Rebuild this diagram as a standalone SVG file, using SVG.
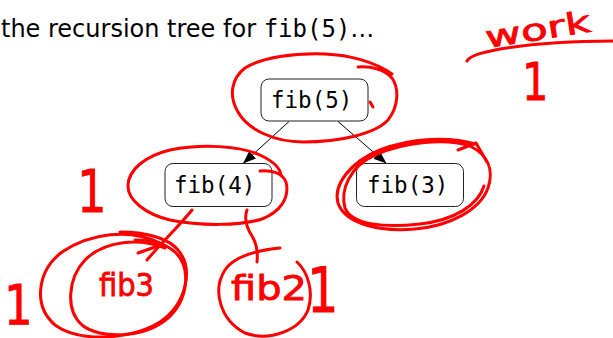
<svg xmlns="http://www.w3.org/2000/svg" width="613" height="338" viewBox="0 0 613 338">
  <style>
    .box { fill: #ffffff; stroke: #222222; stroke-width: 1; }
    .lbl { font-family: "DejaVu Sans Mono", "Liberation Mono", monospace; font-size: 22.5px; fill: #000000; }
    .edge { stroke: #000000; stroke-width: 1; fill: none; marker-end: url(#arrow); }
    .ink { fill: none; stroke: #ff0000; stroke-width: 3; stroke-linecap: round; stroke-linejoin: round; }
    .hand { font-family: "DejaVu Sans", sans-serif; fill: #ff0000; stroke: #ff0000; stroke-width: 0.8; }
  </style>
  <defs>
    <marker id="arrow" markerUnits="userSpaceOnUse" markerWidth="14" markerHeight="10" refX="13" refY="5" orient="auto">
      <path d="M0,0 L13,5 L0,10 Z" fill="#000000"/>
    </marker>
  </defs>
  <rect width="613" height="338" fill="#ffffff"/>

  <text x="1" y="37" font-family="DejaVu Sans, sans-serif" font-size="24" fill="#000000">the recursion tree for <tspan font-family="DejaVu Sans Mono, monospace">fib(5)</tspan>…</text>

  <g id="connectors">
    <line class="edge" x1="289" y1="121.5" x2="243" y2="163.5"/>
    <line class="edge" x1="338" y1="121.5" x2="386.5" y2="163.5"/>
  </g>

  <g id="node-fib5">
    <rect class="box" x="261" y="79" width="107" height="42" rx="8"/>
    <text class="lbl" x="271" y="108">fib(5)</text>
  </g>
  <g id="node-fib4">
    <rect class="box" x="165" y="163.5" width="107" height="43" rx="8"/>
    <text class="lbl" x="174" y="193">fib(4)</text>
  </g>
  <g id="node-fib3">
    <rect class="box" x="356.5" y="163.5" width="107" height="43" rx="8"/>
    <text class="lbl" x="367" y="193">fib(3)</text>
  </g>

  <g id="annotations">
    <!-- loop around fib(5) -->
    <path class="ink" d="M 358,67 C 372,66 385,70 392,78 C 399,88 399,106 388,120 C 375,134 340,142 303,142 C 275,142 248,130 238,112 C 228,95 232,78 245,68 C 262,57 295,53 325,54 C 350,55 375,62 392,74"/>
    <path class="ink" d="M 370,102 L 373,107"/>
    <!-- loop around fib(4) -->
    <path class="ink" d="M 260,171 C 270,170 282,172 286,182 C 290,198 280,212 262,219 C 240,226 200,226 170,220 C 145,214 128,200 128,186 C 128,170 145,156 170,150 C 200,144 240,145 262,156 C 272,161 280,167 281,175"/>
    <!-- loop around fib(3) -->
    <path class="ink" d="M 475,144 C 450,136 410,138 380,150 C 350,162 333,185 338,203 C 345,224 380,232 415,229 C 450,226 480,210 488,188 C 494,170 488,155 470,146 C 445,138 405,142 375,155 C 350,166 340,190 345,208 C 352,225 385,228 420,224 C 455,220 478,205 484,186"/>
    <path class="ink" d="M 458,150 L 476,143 L 487,162"/>
    <!-- fib3 branch -->
    <path class="ink" d="M 192,210 C 180,225 162,242 147,260"/>
    <path class="ink" d="M 138,253 L 158,246"/>
    <path class="ink" d="M 160,243 C 130,228 90,233 62,252 C 38,270 32,305 55,325 C 80,343 130,340 160,322 C 185,305 195,270 178,250 C 170,240 150,232 120,232"/>
    <path class="ink" d="M 165,248 C 140,238 105,240 85,260 C 68,278 65,310 82,325 C 100,340 145,338 168,318 C 188,300 192,268 175,252 C 165,243 150,240 135,240"/>
    <text class="hand" x="99" y="296" font-size="32" textLength="55" lengthAdjust="spacingAndGlyphs">fib3</text>
    <!-- fib2 branch -->
    <path class="ink" d="M 247,210 C 244,218 247,228 252,236 C 257,244 258,252 257,262"/>
    <path class="ink" d="M 280,248 C 260,250 235,255 225,270 C 212,290 220,320 245,333 C 270,342 300,330 308,310 C 314,292 308,272 297,262"/>
    <text class="hand" x="231" y="300" font-size="34" textLength="76" lengthAdjust="spacingAndGlyphs">fib2</text>
    <!-- work label -->
    <text class="hand" font-size="30" textLength="106" lengthAdjust="spacingAndGlyphs" transform="translate(487,48) rotate(-9)">work</text>
    <path class="ink" d="M 467,61 C 470,55 485,52 500,49 C 530,44 570,41 613,41"/>
    <!-- ones -->
    <text class="hand" font-size="52" transform="translate(522,100) scale(0.8,1)">1</text>
    <text class="hand" font-size="58" transform="translate(77,212) scale(0.8,1)">1</text>
    <text class="hand" font-size="56" transform="translate(4,324) scale(0.8,1)">1</text>
    <text class="hand" font-size="62" transform="translate(307,312) scale(0.8,1)">1</text>
  </g>
</svg>
